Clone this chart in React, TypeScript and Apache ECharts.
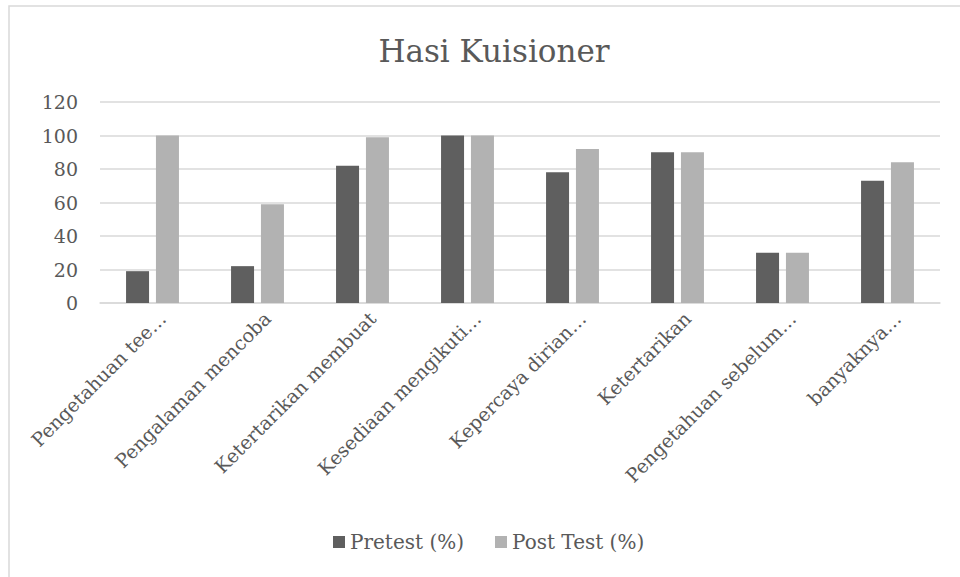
import React, { useEffect, useRef } from "react";
import * as echarts from "echarts";

const categories = [
  "Pengetahuan tee…",
  "Pengalaman mencoba",
  "Ketertarikan membuat",
  "Kesediaan mengikuti…",
  "Kepercaya dirian…",
  "Ketertarikan",
  "Pengetahuan sebelum…",
  "banyaknya…",
];
const pretest = [19, 22, 82, 100, 78, 90, 30, 73];
const posttest = [100, 59, 99, 100, 92, 90, 30, 84];
const yTicks = { min: 0, max: 120, interval: 20 };

const FONT = "DejaVu Serif";
const TXT = "#595959";

export default function App() {
  const ref = useRef<HTMLDivElement>(null);
  useEffect(() => {
    document.body.style.margin = "0";
    const chart = echarts.init(ref.current!, null, { renderer: "svg" });
    chart.setOption({
      animation: false,
      backgroundColor: "#ffffff",
      textStyle: { fontFamily: FONT, color: TXT },
      title: {
        text: "Hasi Kuisioner",
        left: 489,
        textAlign: "center",
        top: 30,
        textStyle: { fontFamily: FONT, fontSize: 31, fontWeight: "normal", color: TXT },
      },
      graphic: [
        {
          type: "rect",
          shape: { x: 9, y: 6, width: 1000, height: 700 },
          style: { fill: "none", stroke: "#d9d9d9", lineWidth: 1.5 },
          silent: true,
        },
      ],
      legend: {
        left: 328,
        top: 527,
        itemWidth: 12,
        itemHeight: 12,
        itemGap: 31,
        icon: "rect",
        textStyle: { fontFamily: FONT, fontSize: 20, color: TXT },
        data: ["Pretest (%)", "Post Test (%)"],
      },
      grid: { left: 100, right: 20, top: 102, bottom: 274, containLabel: false },
      xAxis: {
        type: "category",
        data: categories,
        axisTick: { show: false },
        axisLine: { lineStyle: { color: "#d9d9d9", width: 1.5 } },
        axisLabel: {
          interval: 0,
          rotate: 45,
          margin: 22,
          padding: [0, -14, 0, 0],
          fontFamily: FONT,
          fontSize: 19,
          color: TXT,
        },
      },
      yAxis: {
        type: "value",
        min: yTicks.min,
        max: yTicks.max,
        interval: yTicks.interval,
        axisLine: { show: false },
        axisTick: { show: false },
        splitLine: { lineStyle: { color: "#d9d9d9", width: 1.5 } },
        axisLabel: { margin: 22, fontFamily: FONT, fontSize: 19, color: TXT },
      },
      series: [
        {
          name: "Pretest (%)",
          type: "bar",
          data: pretest,
          barWidth: 23,
          barGap: "30%",
          itemStyle: { color: "#5f5f5f" },
        },
        {
          name: "Post Test (%)",
          type: "bar",
          data: posttest,
          barWidth: 23,
          itemStyle: { color: "#b2b2b2" },
        },
      ],
    });
    return () => chart.dispose();
  }, []);
  return <div ref={ref} style={{ width: 960, height: 577 }} />;
}
